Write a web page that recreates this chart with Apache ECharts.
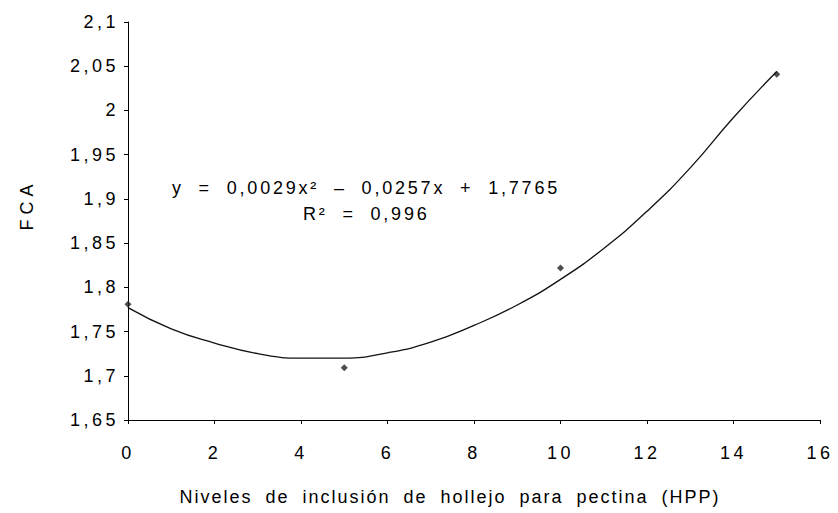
<!DOCTYPE html>
<html>
<head>
<meta charset="utf-8">
<script src="https://cdn.jsdelivr.net/npm/echarts@6/dist/echarts.min.js"></script>
<style>
html,body{margin:0;padding:0;background:#fff;}
#c{width:838px;height:513px;}
</style>
</head>
<body>
<div id="c"></div>
<script>
// Observed data points (FCA vs HPP inclusion level)
var obsX = [0, 5, 10, 15];
var obsY = [1.781, 1.709, 1.822, 2.041];
// Trend line at integer x
var trendX = [0, 1, 2, 3, 4, 5, 6, 7, 8, 9, 10, 11, 12, 13, 14, 15];
var trendY = [1.777, 1.753, 1.737, 1.725, 1.720, 1.720, 1.726, 1.738, 1.757, 1.780, 1.809, 1.844, 1.886, 1.935, 1.992, 2.044];
var xTitle = 'Niveles de inclusión de hollejo para pectina (HPP)';
var yTitle = 'FCA';
var eqLine1 = 'y = 0,0029x² – 0,0257x + 1,7765';
var eqLine2 = 'R² = 0,996';

var FONT = 'Liberation Sans, Arial, sans-serif';
function fmt(v){
  var r = Math.round(v*100)/100;
  return String(r).replace('.', ',');
}
var chart = echarts.init(document.getElementById('c'), null, {renderer:'svg'});
chart.setOption({
  animation:false,
  backgroundColor:'#fff',
  grid:{left:128, right:18, top:22, bottom:93, containLabel:false},
  xAxis:{
    type:'value', min:0, max:16, interval:2,
    axisLine:{show:true, lineStyle:{color:'#000', width:1}},
    axisTick:{show:true, length:4, lineStyle:{color:'#000'}},
    axisLabel:{color:'#000', fontSize:18, fontFamily:FONT, margin:24, formatter:fmt},
    splitLine:{show:false}
  },
  yAxis:{
    type:'value', min:1.65, max:2.1, interval:0.05,
    axisLine:{show:true, lineStyle:{color:'#000', width:1}},
    axisTick:{show:true, length:4, lineStyle:{color:'#000'}},
    axisLabel:{color:'#000', fontSize:18, fontFamily:FONT, margin:9, formatter:fmt},
    splitLine:{show:false}
  },
  series:[
    {
      type:'line', smooth:true, showSymbol:false, silent:true,
      data: trendX.map(function(x,i){return [x, trendY[i]];}),
      lineStyle:{color:'#111', width:1.3}
    },
    {
      type:'scatter', symbol:'diamond', symbolSize:7,
      data: obsX.map(function(x,i){return [x, obsY[i]];}),
      itemStyle:{color:'#222'}
    }
  ],
  graphic:[
    {type:'text', x:172, y:188, style:{
      text:eqLine1, fill:'#000', font:'18px '+FONT, verticalAlign:'middle', align:'left'
    }},
    {type:'text', x:303, y:214, style:{
      text:eqLine2, fill:'#000', font:'18px '+FONT, verticalAlign:'middle', align:'left'
    }},
    {type:'text', x:450, y:497, style:{
      text:xTitle, fill:'#000', font:'18px '+FONT, verticalAlign:'middle', align:'center'
    }},
    {type:'text', x:27, y:205, rotation:Math.PI/2, style:{
      text:yTitle, fill:'#000', font:'18px '+FONT, verticalAlign:'middle', align:'center'
    }}
  ]
});

// Widen letter spacing of texts to match the reference typography
function spaceText(){
  var texts = document.querySelectorAll('#c text');
  texts.forEach(function(t){
    var s = t.textContent;
    if (s === xTitle){
      t.style.letterSpacing = '2px'; t.style.wordSpacing = '6px';
    } else if (s === eqLine1 || s === eqLine2){
      t.style.letterSpacing = '2.8px'; t.style.wordSpacing = '7px';
    } else if (s === yTitle){
      t.style.letterSpacing = '5px';
    } else if (/^[\d,]+$/.test(s)){
      t.style.letterSpacing = '3.5px';
    }
  });
}
spaceText();
setTimeout(spaceText, 50);
setTimeout(spaceText, 300);
</script>
</body>
</html>
